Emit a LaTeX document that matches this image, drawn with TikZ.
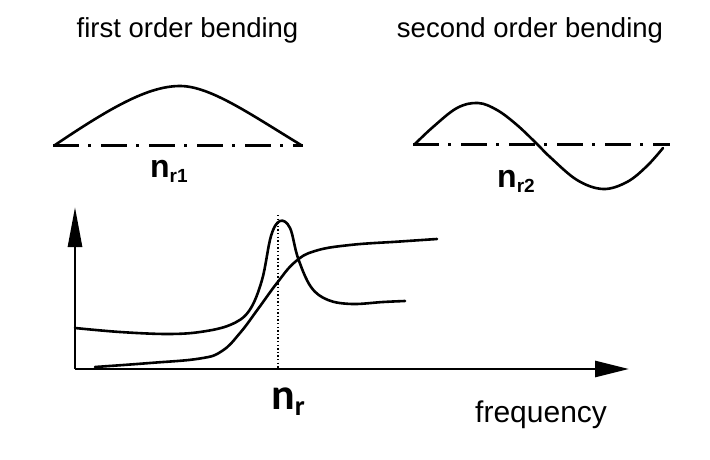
\documentclass[tikz,border=0pt]{standalone}
\usepackage{fontspec}
\setmainfont{Liberation Sans}
\newfontfamily\calib{Carlito}
\usetikzlibrary{arrows.meta}
\begin{document}
\begin{tikzpicture}[x=1pt,y=-1pt,
  curve/.style={line width=2.6pt, line cap=round, line join=round},
  centre/.style={line width=3pt, dash pattern=on 26pt off 9pt on 3pt off 10pt},
  axisline/.style={line width=2.8pt},
  title/.style={inner sep=0pt, anchor=base, font=\fontsize{27.5}{30}\selectfont},
  lab/.style={inner sep=0pt, anchor=base west}]
\useasboundingbox (0,0) rectangle (710,460);
% titles
\node[title] (title1) at (187.5,38) {first order bending};
\node[title] (title2) at (530,38) {second order bending};
% first order mode shape
\coordinate (c1a) at (53,145);
\coordinate (c1b) at (303,145);
\draw[centre] (c1a) -- (c1b);
\draw[curve] (55,145) .. controls (110,108) and (148,86) .. (180,86)
                      .. controls (210,86) and (250,114) .. (301,145);
\node[lab] (nr1) at (150,177) {\fontsize{32}{34}\selectfont\bfseries n\raisebox{-5pt}{\fontsize{19}{20}\selectfont r1}};
% second order mode shape
\coordinate (c2a) at (413,144);
\coordinate (c2b) at (670,144);
\draw[centre] (c2a) -- (c2b);
\draw[curve] plot[smooth, tension=0.6] coordinates {(415,144) (433,127) (457,108) (478,103) (497,110) (517,125) (537,144) (550,157) (577,180) (603,189) (627,182) (647,166) (663,148)};
\node[lab] (nr2) at (497,187) {\fontsize{32}{34}\selectfont\bfseries n\raisebox{-5pt}{\fontsize{19}{20}\selectfont r2}};
% axes
\coordinate (O) at (75,369);
\coordinate (ytip) at (75,207);
\coordinate (xtip) at (629,369);
\draw[axisline, -{Triangle[length=40pt, width=14pt]}] (O) -- (ytip);
\draw[axisline, -{Triangle[length=34pt, width=16pt]}] (O) -- (xtip);
% resonance line
\coordinate (rtop) at (278,215);
\coordinate (rbot) at (278,369);
\draw[line width=1.4pt, dash pattern=on 1.4pt off 2.2pt] (rtop) -- (rbot);
% amplitude curve
\draw[curve] plot[smooth, tension=0.6] coordinates {(75,328) (120,332) (167,334) (200,332) (230,325) (249,311) (262,280) (271,236) (280,221) (290,228) (298,258) (311,287) (328,300) (352,304) (383,302) (405,301)};
% phase curve
\draw[curve] plot[smooth, tension=0.7] coordinates {(95,367) (150,363) (200,358.5) (222,351) (240,333) (258,309) (277,283) (295,262) (315,251) (350,245) (400,241.5) (437,239)};
% labels
\node[lab] (nr) at (271,409) {\calib\fontsize{44}{46}\selectfont\bfseries n\raisebox{-6pt}{\fontsize{28}{30}\selectfont r}};
\node[lab] (freq) at (475,422) {\fontsize{30}{32}\selectfont frequency};
\end{tikzpicture}
\end{document}
